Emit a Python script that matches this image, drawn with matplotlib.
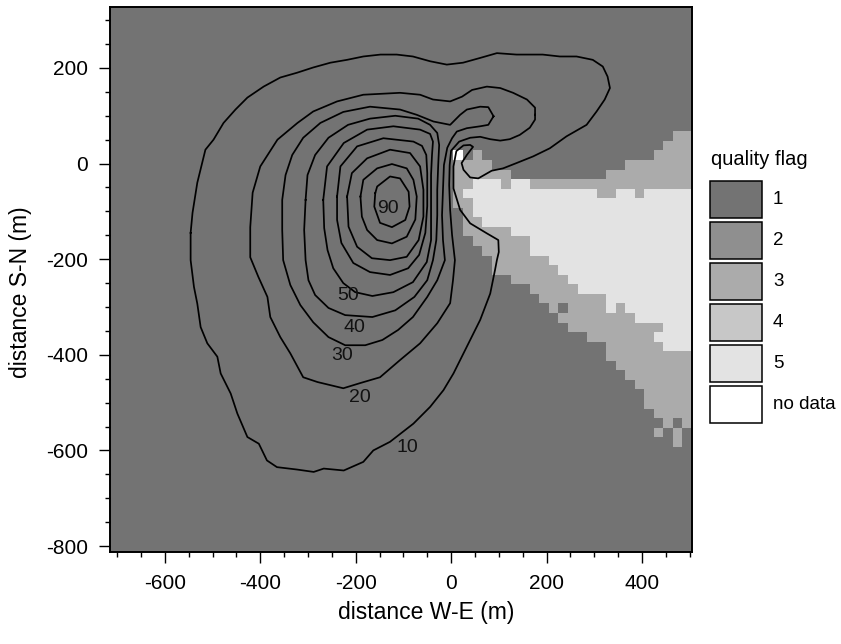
import numpy as np
import matplotlib
matplotlib.use('Agg')
import matplotlib.pyplot as plt
from matplotlib.colors import ListedColormap, BoundaryNorm
from matplotlib.patches import Rectangle

plt.rcParams['font.family'] = ['Liberation Sans', 'DejaVu Sans']
plt.rcParams['axes.unicode_minus'] = False

# ---------------- data ----------------
# raster cell edges (m)
x_edges = np.arange(-715, 506, 20)
y_edges = np.arange(-812.5, 328, 20)

# quality-flag wedge east of the tower: per column (cell centre x) the
# vertical extent of flag 3 and flag 5 areas (cell-edge values, m)
wedge_x = [15, 35, 55, 75, 95, 115, 135, 155, 175, 195, 215, 235, 255,
           275, 295, 315, 335, 355, 375, 395, 415, 435, 455, 475, 495]
top3 = [7.5, 7.5, 27.5, 7.5, -12.5, -12.5, -32.5, -32.5, -32.5, -32.5, -32.5,
        -32.5, -32.5, -32.5, -32.5, -32.5, -12.5, -12.5, 7.5, 7.5, 7.5, 27.5,
        47.5, 67.5, 67.5]
top5 = [np.nan, -52.5, -32.5, -32.5, -32.5, -52.5, -32.5, -32.5, -52.5, -52.5,
        -52.5, -52.5, -52.5, -52.5, -52.5, -72.5, -72.5, -52.5, -52.5, -72.5,
        -52.5, -52.5, -52.5, -52.5, -52.5]
bot5 = [np.nan, -72.5, -112.5, -132.5, -132.5, -132.5, -152.5, -152.5, -192.5,
        -192.5, -212.5, -232.5, -252.5, -272.5, -272.5, -272.5, -312.5, -292.5,
        -312.5, -332.5, -332.5, -332.5, -392.5, -392.5, -392.5]
bot3 = [-92.5, -152.5, -172.5, -192.5, -232.5, -232.5, -252.5, -252.5, -272.5,
        -292.5, -312.5, -332.5, -352.5, -352.5, -372.5, -372.5, -412.5, -432.5,
        -452.5, -472.5, -512.5, -532.5, -552.5, -592.5, -552.5]
# single cells differing from the pattern: (x centre, y centre, flag); 0 = no data
special_cells = [(15, 17.5, 0), (235, -302.5, 1), (435, -362.5, 5),
                 (435, -562.5, 3), (475, -542.5, 1)]

flag_labels = ['1', '2', '3', '4', '5', 'no data']
flag_colors = ['#737373', '#8f8f8f', '#ababab', '#c7c7c7', '#e3e3e3', '#ffffff']

# footprint climatology contours (%), vertices in m
c10 = [(-546, -145), (-542, -103), (-532, -40), (-515, 29), (-498, 50), (-477, 85),
       (-452, 113), (-427, 138), (-393, 161), (-358, 180), (-323, 190), (-289, 201),
       (-253, 211), (-218, 217), (-184, 224), (-148, 228), (-114, 228), (-80, 224),
       (-44, 214), (-9, 207), (25, 211), (61, 221), (96, 231), (137, 228), (192, 228),
       (228, 224), (263, 224), (297, 217), (318, 203), (328, 182), (333, 158),
       (322, 134), (305, 109), (284, 81), (242, 57), (207, 32), (172, 15), (137, 1),
       (109, -10), (85, -15), (57, -31), (40, -29), (26, -13), (22, 1), (33, 18),
       (46, 35), (40, 39), (26, 38), (11, 26), (5, -6), (5, -52), (19, -97),
       (40, -125), (75, -146), (99, -160), (100, -185), (96, -202), (92, -223),
       (82, -272), (61, -327), (33, -383), (5, -439), (-16, -474), (-44, -509),
       (-79, -544), (-128, -582), (-163, -600), (-184, -624), (-225, -642),
       (-267, -638), (-288, -645), (-323, -640), (-365, -635), (-386, -621),
       (-403, -586), (-427, -572), (-448, -523), (-462, -481), (-483, -439),
       (-490, -404), (-511, -376), (-525, -342), (-532, -293), (-539, -258),
       (-546, -202)]
c20 = [(176, 102), (176, 117), (159, 134), (130, 148), (103, 158), (75, 161),
       (44, 154), (23, 140), (-2, 130), (-38, 134), (-65, 144), (-107, 148),
       (-184, 144), (-239, 130), (-289, 109), (-322, 85), (-364, 50), (-400, -6),
       (-416, -61), (-421, -133), (-421, -196), (-404, -237), (-385, -279),
       (-379, -321), (-358, -363), (-337, -397), (-310, -447), (-280, -457),
       (-226, -470), (-190, -459), (-149, -447), (-107, -411), (-65, -376),
       (-29, -334), (-2, -292), (4, -244), (8, -202), (2, -149), (-2, -97),
       (-4, -45), (-3, -3), (0, 27), (17, 46), (40, 54), (61, 56), (82, 51),
       (103, 48), (123, 51), (144, 60), (165, 75), (176, 92)]
c30 = [(89, 99), (78, 118), (61, 119), (33, 113), (19, 102), (-2, 81), (-37, 88),
       (-72, 102), (-107, 113), (-170, 119), (-226, 108), (-274, 85), (-310, 54),
       (-333, 18), (-347, -24), (-354, -76), (-354, -139), (-352, -202),
       (-337, -254), (-316, -296), (-289, -332), (-257, -363), (-222, -380),
       (-180, -380), (-144, -369), (-111, -348), (-80, -321), (-50, -279),
       (-29, -244), (-13, -202), (-17, -160), (-19, -108), (-17, -55), (-15, -3),
       (-8, 33), (2, 53), (12, 67), (33, 74), (61, 78), (78, 81)]
c40 = [(-305, -76), (-301, -24), (-285, 18), (-257, 54), (-216, 81), (-170, 94),
       (-117, 100), (-69, 94), (-44, 81), (-29, 64), (-25, 39), (-27, -3),
       (-29, -55), (-29, -108), (-31, -160), (-38, -202), (-50, -244), (-77, -279),
       (-117, -307), (-165, -321), (-222, -317), (-257, -302), (-285, -275),
       (-299, -244), (-305, -202), (-308, -139)]
c50 = [(-268, -76), (-260, -6), (-225, 43), (-176, 71), (-121, 78), (-65, 71),
       (-44, 62), (-38, 46), (-40, 18), (-42, -24), (-42, -89), (-42, -160),
       (-51, -206), (-80, -248), (-121, -269), (-165, -277), (-201, -269),
       (-226, -250), (-247, -219), (-259, -181), (-266, -135)]
c60 = [(-239, -69), (-232, -6), (-197, 36), (-142, 53), (-79, 46), (-61, 37),
       (-52, 18), (-50, -20), (-50, -89), (-54, -145), (-67, -191), (-90, -219),
       (-128, -233), (-170, -227), (-205, -208), (-230, -166), (-239, -118)]
c70 = [(-218, -69), (-208, -20), (-176, 11), (-128, 29), (-86, 22), (-65, -6),
       (-58, -55), (-58, -111), (-68, -160), (-93, -195), (-128, -202),
       (-166, -198), (-197, -174), (-215, -132)]
c80 = [(-190, -69), (-184, -34), (-155, -10), (-124, -1), (-93, -10), (-79, -34),
       (-72, -69), (-75, -117), (-93, -153), (-124, -167), (-155, -160),
       (-176, -139), (-187, -111)]
c90 = [(-159, -62), (-155, -48), (-128, -27), (-107, -31), (-89, -59), (-87, -90),
       (-96, -118), (-124, -133), (-149, -124), (-161, -90)]
contours = [c10, c20, c30, c40, c50, c60, c70, c80, c90]

label_text = ['10', '20', '30', '40', '50', '90']
label_x = [-92, -192, -228, -203, -215, -132]
label_y = [-594, -489, -401, -342, -277, -93]

x_major = [-600, -400, -200, 0, 200, 400]
y_major = [-800, -600, -400, -200, 0, 200]

# ---------------- build flag grid ----------------
xc = (x_edges[:-1] + x_edges[1:]) / 2
yc = (y_edges[:-1] + y_edges[1:]) / 2
flags = np.ones((len(yc), len(xc)))
for i, xw in enumerate(wedge_x):
    j = int(np.argmin(np.abs(xc - xw)))
    col = flags[:, j]
    col[(yc < top3[i]) & (yc > bot3[i])] = 3
    if not np.isnan(top5[i]):
        col[(yc < top5[i]) & (yc > bot5[i])] = 5
for sx, sy, f in special_cells:
    j = int(np.argmin(np.abs(xc - sx)))
    k = int(np.argmin(np.abs(yc - sy)))
    flags[k, j] = f

cmap_colors = [flag_colors[5]] + flag_colors[:5]
cmap = ListedColormap(cmap_colors)
norm = BoundaryNorm(np.arange(-0.5, 6.0, 1.0), cmap.N)

# ---------------- figure ----------------
W, H = 841, 644
fig = plt.figure(figsize=(W / 100, H / 100), dpi=100)
ax = fig.add_axes([110 / W, 1 - 552 / H, (692 - 110) / W, (552 - 7) / H])
ax.pcolormesh(x_edges, y_edges, flags, cmap=cmap, norm=norm,
              shading='flat', edgecolors='none', antialiased=False)

for c in contours:
    p = np.array(c + [c[0]], dtype=float)
    ax.plot(p[:, 0], p[:, 1], color='black', lw=1.25, solid_joinstyle='round')

for t, lx, ly in zip(label_text, label_x, label_y):
    ax.text(lx, ly, t, ha='center', va='center', fontsize=14, color='#111111')

ax.set_xlim(x_edges[0], x_edges[-1])
ax.set_ylim(y_edges[0], y_edges[-1])
ax.set_xticks(x_major)
ax.set_yticks(y_major)
ax.set_xticks(np.arange(-700, 501, 50), minor=True)
ax.set_yticks(np.arange(-800, 301, 50), minor=True)
ax.tick_params(which='major', length=8, width=1.0, direction='out',
               labelsize=15, pad=8, colors='black')
ax.tick_params(which='minor', length=3.6, width=1.0, direction='out')
ax.tick_params(top=False, right=False, which='both')
for s in ax.spines.values():
    s.set_linewidth(1.4)

fig.text(426 / W, 1 - 612 / H, 'distance W-E (m)', ha='center', va='center', fontsize=16.5)
fig.text(21 / W, 1 - 292 / H, 'distance S-N (m)', ha='center', va='center',
         rotation=90, fontsize=16.5)

# legend
lax = fig.add_axes([0, 0, 1, 1])
lax.set_xlim(0, W)
lax.set_ylim(H, 0)
lax.axis('off')
lax.text(711, 159, 'quality flag', ha='left', va='center', fontsize=14.5)
box_top = [181, 222.3, 263.3, 304, 345, 386]
for lab, colr, bt in zip(flag_labels, flag_colors, box_top):
    lax.add_patch(Rectangle((710, bt), 51.7, 37, facecolor=colr,
                            edgecolor='black', lw=1.1))
    lax.text(773, bt + 18.5, lab, ha='left', va='center', fontsize=13.5)

fig.savefig('out.png', dpi=100)
